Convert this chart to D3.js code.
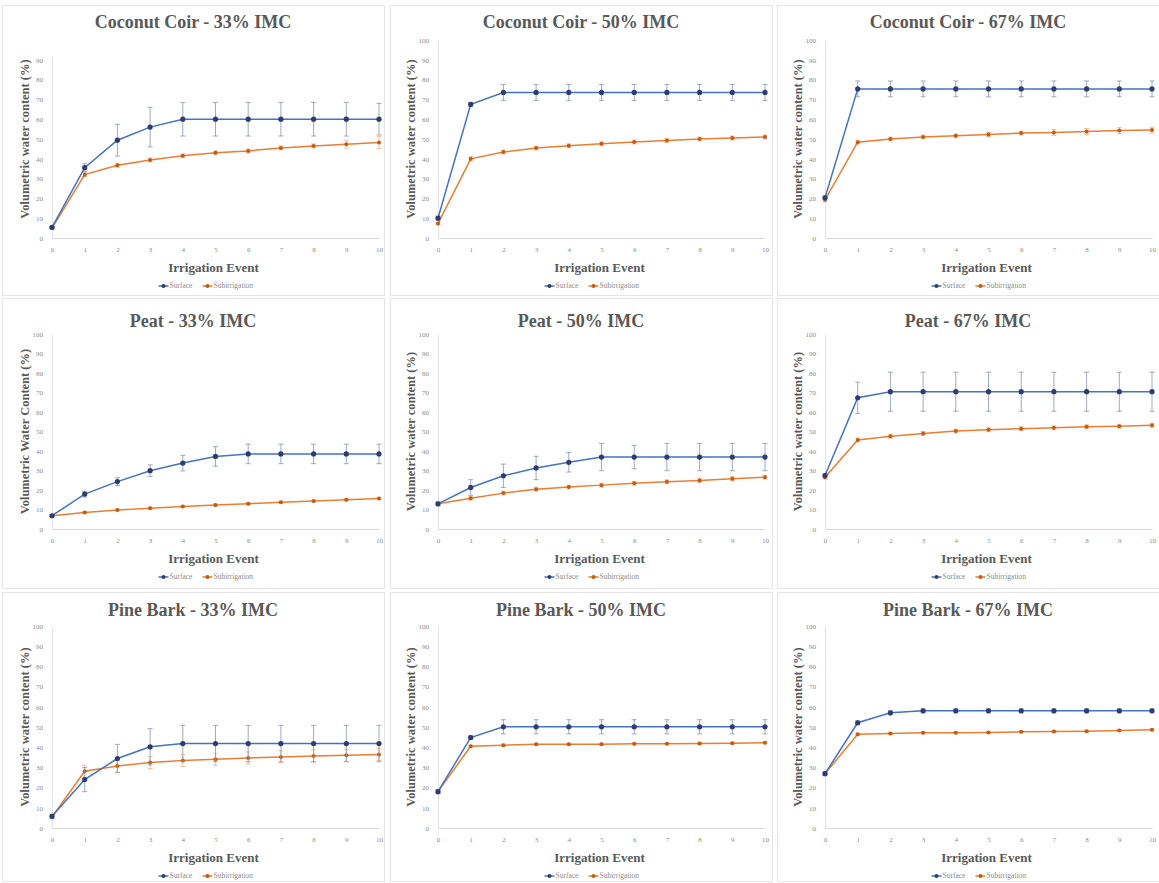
<!DOCTYPE html>
<meta charset="utf-8">
<script src="https://d3js.org/d3.v7.min.js"></script>
<style>
  body { margin: 0; background: #fff; }
  text { font-family: "Liberation Serif", "Times New Roman", serif; }
</style>
<div class="canvas"></div>

<script>
  const width = 1159
  const height = 883

  // irrigation events on the x axis
  const events = [0, 1, 2, 3, 4, 5, 6, 7, 8, 9, 10]
  const yTicks = [0, 10, 20, 30, 40, 50, 60, 70, 80, 90, 100]

  const titles = [
    "Coconut Coir - 33% IMC", "Coconut Coir - 50% IMC", "Coconut Coir - 67% IMC",
    "Peat - 33% IMC", "Peat - 50% IMC", "Peat - 67% IMC",
    "Pine Bark - 33% IMC", "Pine Bark - 50% IMC", "Pine Bark - 67% IMC"
  ]
  const yLabels = [
    "Volumetric water content (%)", "Volumetric water content (%)", "Volumetric water content (%)",
    "Volumetric Water Content (%)", "Volumetric water content (%)", "Volumetric water content (%)",
    "Volumetric water content (%)", "Volumetric water content (%)", "Volumetric water content (%)"
  ]

  // surface irrigation (mean, error)
  const coir33Surface = [5.4, 35.5, 49.4, 56, 60, 60, 60, 60, 60, 60, 60]
  const coir33SurfaceErr = [0.5, 2, 8, 10, 8.5, 8.5, 8.5, 8.5, 8.5, 8.5, 8]
  const coir50Surface = [10, 67.5, 73.5, 73.5, 73.5, 73.5, 73.5, 73.5, 73.5, 73.5, 73.5]
  const coir50SurfaceErr = [1, 1, 4, 4, 4, 4, 4, 4, 4, 4, 4]
  const coir67Surface = [20.3, 75.3, 75.3, 75.3, 75.3, 75.3, 75.3, 75.3, 75.3, 75.3, 75.3]
  const coir67SurfaceErr = [1, 4, 4, 4, 4, 4, 4, 4, 4, 4, 4]
  const peat33Surface = [6.8, 17.9, 24.3, 29.9, 33.8, 37.2, 38.5, 38.5, 38.5, 38.5, 38.5]
  const peat33SurfaceErr = [0.5, 1.5, 2, 3, 4, 5, 5, 5, 5, 5, 5]
  const peat50Surface = [12.9, 21.3, 27.3, 31.3, 34.2, 36.9, 36.9, 36.9, 36.9, 36.9, 36.9]
  const peat50SurfaceErr = [1, 4, 6, 6, 5, 7, 6, 7, 7, 7, 7]
  const peat67Surface = [27.4, 67.3, 70.4, 70.4, 70.4, 70.4, 70.4, 70.4, 70.4, 70.4, 70.4]
  const peat67SurfaceErr = [1, 8, 10, 10, 10, 10, 10, 10, 10, 10, 10]
  const bark33Surface = [5.8, 24, 34.4, 40.2, 41.8, 41.8, 41.8, 41.8, 41.8, 41.8, 41.8]
  const bark33SurfaceErr = [1, 6, 7, 9, 9, 9, 9, 9, 9, 9, 9]
  const bark50Surface = [18, 44.8, 50.1, 50.1, 50.1, 50.1, 50.1, 50.1, 50.1, 50.1, 50.1]
  const bark50SurfaceErr = [1, 1, 3.5, 3.5, 3.5, 3.5, 3.5, 3.5, 3.5, 3.5, 3.5]
  const bark67Surface = [26.9, 52.1, 57, 58, 58, 58, 58, 58, 58, 58, 58]
  const bark67SurfaceErr = [1, 1, 1, 1, 1, 1, 1, 1, 1, 1, 1]

  // subirrigation (mean, error)
  const coir33Sub = [5, 32, 36.7, 39.4, 41.5, 43, 44, 45.5, 46.5, 47.4, 48.2]
  const coir33SubErr = [0.5, 1, 1, 1, 1, 1, 1, 1, 1, 2, 3]
  const coir50Sub = [7.3, 40, 43.4, 45.4, 46.6, 47.6, 48.5, 49.3, 50, 50.5, 51]
  const coir50SubErr = [0.5, 1, 1, 1, 1, 1, 1, 1, 1, 1, 1]
  const coir67Sub = [19.3, 48.4, 50, 51, 51.6, 52.3, 53, 53.3, 53.8, 54.3, 54.5]
  const coir67SubErr = [1, 1, 1, 1, 1, 1, 1, 1.5, 1.5, 1.5, 1.5]
  const peat33Sub = [6.8, 8.5, 9.7, 10.7, 11.5, 12.3, 13, 13.7, 14.3, 15, 15.6]
  const peat33SubErr = [0.5, 0.5, 0.5, 0.5, 0.5, 0.5, 0.5, 0.5, 0.5, 0.5, 0.5]
  const peat50Sub = [12.9, 15.8, 18.4, 20.4, 21.5, 22.5, 23.4, 24.2, 24.9, 25.8, 26.5]
  const peat50SubErr = [0.5, 1, 1, 1, 1, 1, 1, 1, 1, 1, 1]
  const peat67Sub = [26.5, 45.7, 47.6, 49, 50.2, 50.9, 51.4, 51.9, 52.4, 52.7, 53.2]
  const peat67SubErr = [1, 1, 1, 1, 1, 1, 1, 1, 1, 1, 1]
  const bark33Sub = [5.5, 28.1, 30.7, 32.4, 33.4, 34, 34.7, 35.2, 35.7, 36, 36.4]
  const bark33SubErr = [1, 3, 3, 3, 3, 3, 3, 3, 3, 3, 3]
  const bark50Sub = [18, 40.5, 41, 41.4, 41.4, 41.5, 41.7, 41.7, 41.8, 42, 42.2]
  const bark50SubErr = [0.5, 0.5, 0.5, 0.5, 0.5, 0.5, 0.5, 0.5, 0.5, 0.5, 0.5]
  const bark67Sub = [26.9, 46.4, 46.8, 47.1, 47.1, 47.3, 47.6, 47.8, 47.9, 48.3, 48.6]
  const bark67SubErr = [0.5, 0.5, 0.5, 0.5, 0.5, 0.5, 0.5, 0.5, 0.5, 0.5, 0.5]

  const surfaceSets = [
    [coir33Surface, coir33SurfaceErr], [coir50Surface, coir50SurfaceErr], [coir67Surface, coir67SurfaceErr],
    [peat33Surface, peat33SurfaceErr], [peat50Surface, peat50SurfaceErr], [peat67Surface, peat67SurfaceErr],
    [bark33Surface, bark33SurfaceErr], [bark50Surface, bark50SurfaceErr], [bark67Surface, bark67SurfaceErr]
  ]
  const subSets = [
    [coir33Sub, coir33SubErr], [coir50Sub, coir50SubErr], [coir67Sub, coir67SubErr],
    [peat33Sub, peat33SubErr], [peat50Sub, peat50SubErr], [peat67Sub, peat67SubErr],
    [bark33Sub, bark33SubErr], [bark50Sub, bark50SubErr], [bark67Sub, bark67SubErr]
  ]

  // layout of the 3x3 grid
  const colLeft = [52, 438, 825]
  const plotWidth = 327
  const rowTop = [40, 334, 626]
  const rowBottom = [238, 529, 828]
  const titleY = [28, 327, 616]
  const boxes = {x: [2, 390, 777], w: 382, y: [5, 298, 592], h: [290, 290, 289]}

  const surfColor = "#4472c4"
  const surfMarker = "#2f3b73"
  const subColor = "#ed7d31"
  const subMarker = "#c55a11"
  const textGray = "#595959"

  const svg = d3.select(".canvas")
              .append("svg")
              .attr("width", width)
              .attr("height", height)

  svg.append("rect").attr("width", width).attr("height", height).attr("fill", "#fff")

  // the first chart is cut off at the top in the original figure
  const defs = svg.append("defs")
  defs.append("clipPath").attr("id", "clipFirst")
      .append("rect").attr("x", 0).attr("y", 57).attr("width", 400).attr("height", 300)

  titles.forEach((title, i) => {
    const col = i % 3
    const row = Math.floor(i / 3)

    // chart frame
    svg.append("rect")
       .attr("x", boxes.x[col] + 0.5)
       .attr("y", boxes.y[row] + 0.5)
       .attr("width", boxes.w)
       .attr("height", boxes.h[row])
       .attr("fill", "none")
       .attr("stroke", "#e6e6e6")

    const x = d3.scaleLinear()
                .domain([0, 10])
                .range([colLeft[col], colLeft[col] + plotWidth])
    const y = d3.scaleLinear()
                .domain([0, 100])
                .range([rowBottom[row], rowTop[row]])

    const graph = svg.append("g")
    const clipped = graph.append("g")
    if (i === 0) clipped.attr("clip-path", "url(#clipFirst)")

    const boxCenter = boxes.x[col] + boxes.w / 2

    graph.append("text")
         .attr("x", boxCenter)
         .attr("y", titleY[row])
         .attr("text-anchor", "middle")
         .attr("font-size", 18)
         .attr("font-weight", "bold")
         .attr("fill", textGray)
         .text(title)

    // y axis
    const gYAxis = clipped.append("g")
                    .attr("transform", `translate(${colLeft[col]},0)`)
    gYAxis.call(d3.axisLeft(y).tickValues(yTicks).tickSize(0).tickPadding(9))
    gYAxis.select(".domain").attr("stroke", "#e3e3e3")
    gYAxis.selectAll("text")
          .style("font-size", "7px")
          .attr("fill", "#8c8c8c")
          .attr("font-family", "Liberation Serif")

    clipped.append("text")
           .attr("transform", `translate(${colLeft[col] - 27},${(rowTop[row] + rowBottom[row]) / 2}) rotate(-90)`)
           .attr("text-anchor", "middle")
           .attr("dy", "0.35em")
           .attr("font-size", 12.5)
           .attr("font-weight", "bold")
           .attr("fill", textGray)
           .text(yLabels[i])

    // x axis
    const gXAxis = graph.append("g")
                    .attr("transform", `translate(0,${rowBottom[row]})`)
    gXAxis.call(d3.axisBottom(x).tickValues(events).tickSize(0).tickPadding(9))
    gXAxis.select(".domain").attr("stroke", "#d9d9d9")
    gXAxis.selectAll("text")
          .style("font-size", "7px")
          .attr("fill", "#8c8c8c")
          .attr("font-family", "Liberation Serif")

    graph.append("text")
         .attr("x", x(5) - 2)
         .attr("y", rowBottom[row] + 34)
         .attr("text-anchor", "middle")
         .attr("font-size", 13)
         .attr("font-weight", "bold")
         .attr("fill", textGray)
         .text("Irrigation Event")

    const series = [
      {vals: subSets[i][0], err: subSets[i][1], color: subColor, marker: subMarker, errColor: "#f4b183", r: 2},
      {vals: surfaceSets[i][0], err: surfaceSets[i][1], color: surfColor, marker: surfMarker, errColor: "#8497b0", r: 2.6}
    ]

    series.forEach(s => {
      const pts = events.map((e, k) => ({e: e, v: s.vals[k], err: s.err[k]}))

      // error bars
      const eb = graph.append("g").selectAll("g").data(pts).enter().append("g")
      eb.append("line")
        .attr("x1", d => x(d.e)).attr("x2", d => x(d.e))
        .attr("y1", d => y(d.v - d.err)).attr("y2", d => y(d.v + d.err))
        .attr("stroke", s.errColor).attr("stroke-width", 0.8)
      eb.append("line")
        .attr("x1", d => x(d.e) - 2.5).attr("x2", d => x(d.e) + 2.5)
        .attr("y1", d => y(d.v + d.err)).attr("y2", d => y(d.v + d.err))
        .attr("stroke", s.errColor).attr("stroke-width", 0.8)
      eb.append("line")
        .attr("x1", d => x(d.e) - 2.5).attr("x2", d => x(d.e) + 2.5)
        .attr("y1", d => y(d.v - d.err)).attr("y2", d => y(d.v - d.err))
        .attr("stroke", s.errColor).attr("stroke-width", 0.8)

      graph.append("path")
           .datum(pts)
           .attr("fill", "none")
           .attr("stroke", s.color)
           .attr("stroke-width", 1.5)
           .attr("d", d3.line().x(d => x(d.e)).y(d => y(d.v)))

      graph.append("g").selectAll("circle").data(pts).enter()
           .append("circle")
           .attr("cx", d => x(d.e))
           .attr("cy", d => y(d.v))
           .attr("r", s.r)
           .attr("fill", s.marker)
    })

    // legend
    const legendY = rowBottom[row] + 48
    const lg = graph.append("g").attr("transform", `translate(${x(5) - 57},${legendY})`)
    const items = [["Surface", surfColor, surfMarker], ["Subirrigation", subColor, subMarker]]
    let offset = 0
    items.forEach(([name, c, m]) => {
      lg.append("line").attr("x1", offset).attr("x2", offset + 10)
        .attr("y1", 0).attr("y2", 0).attr("stroke", c).attr("stroke-width", 1.5)
      lg.append("circle").attr("cx", offset + 5).attr("cy", 0).attr("r", 2).attr("fill", m)
      lg.append("text").attr("x", offset + 11).attr("y", 0).attr("dy", "0.33em")
        .attr("font-size", 7.5).attr("fill", "#8c8c8c").text(name)
      offset += 44
    })
  })
</script>
